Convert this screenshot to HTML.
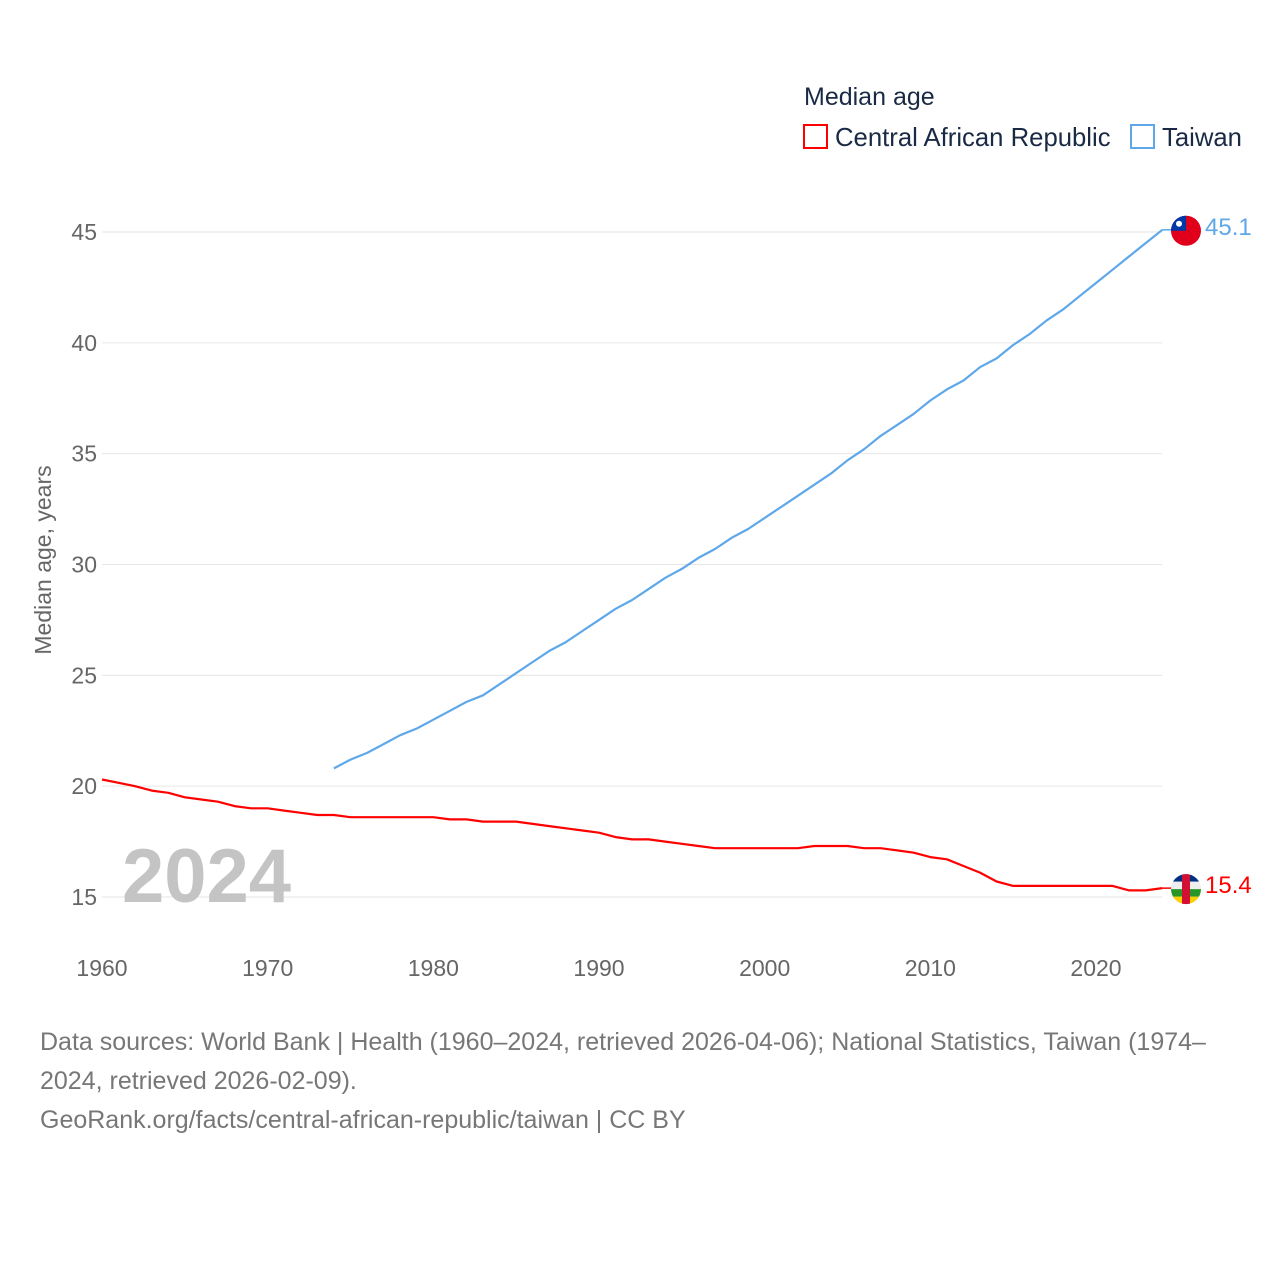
<!DOCTYPE html>
<html><head><meta charset="utf-8"><style>
body{margin:0;background:#fff;font-family:"Liberation Sans",sans-serif;}
#wrap{position:relative;width:1280px;height:1280px;}
.t{position:absolute;white-space:nowrap;}
</style></head><body>
<div id="wrap">
<div class="t" style="left:804px;top:83px;font-size:25px;color:#1a2a44">Median age</div>
<div class="t" style="left:803px;top:124px;width:25px;height:25px;border:2px solid #f00;box-sizing:border-box"></div>
<div class="t" style="left:835px;top:124px;font-size:25.7px;color:#1a2a44">Central African Republic</div>
<div class="t" style="left:1130px;top:124px;width:25px;height:25px;border:2px solid #5ea8ea;box-sizing:border-box"></div>
<div class="t" style="left:1162px;top:124px;font-size:25.7px;color:#1a2a44">Taiwan</div>
<svg id="svg" width="1280" height="1280" style="position:absolute;left:0;top:0"></svg>
<div class="t" style="left:40px;top:1023px;font-size:25px;color:#777;line-height:39px;white-space:normal;width:1220px">Data sources: World Bank | Health (1960–2024, retrieved 2026-04-06); National Statistics, Taiwan (1974–2024, retrieved 2026-02-09).<br>GeoRank.org/facts/central-african-republic/taiwan | CC BY</div>
</div>
<script>
const yTicks=[15,20,25,30,35,40,45];
const xTicks=[1960,1970,1980,1990,2000,2010,2020];
const carYears=[];for(let y=1960;y<=2024;y++)carYears.push(y);
const carValues=[20.3,20.15,20.0,19.8,19.7,19.5,19.4,19.3,19.1,19.0,19.0,18.9,18.8,18.7,18.7,18.6,18.6,18.6,18.6,18.6,18.6,18.5,18.5,18.4,18.4,18.4,18.3,18.2,18.1,18.0,17.9,17.7,17.6,17.6,17.5,17.4,17.3,17.2,17.2,17.2,17.2,17.2,17.2,17.3,17.3,17.3,17.2,17.2,17.1,17.0,16.8,16.7,16.4,16.1,15.7,15.5,15.5,15.5,15.5,15.5,15.5,15.5,15.3,15.3,15.4];
const twYears=[];for(let y=1974;y<=2024;y++)twYears.push(y);
const twValues=[20.8,21.2,21.5,21.9,22.3,22.6,23.0,23.4,23.8,24.1,24.6,25.1,25.6,26.1,26.5,27.0,27.5,28.0,28.4,28.9,29.4,29.8,30.3,30.7,31.2,31.6,32.1,32.6,33.1,33.6,34.1,34.7,35.2,35.8,36.3,36.8,37.4,37.9,38.3,38.9,39.3,39.9,40.4,41.0,41.5,42.1,42.7,43.3,43.9,44.5,45.1];
const X=v=>102+(v-1960)*(1096-102)/60;
const Y=v=>897-(v-15)*(897-232)/30;
const svg=document.getElementById('svg');const NS='http://www.w3.org/2000/svg';
function mk(t,a,p){const e=document.createElementNS(NS,t);for(const k in a)e.setAttribute(k,a[k]);(p||svg).appendChild(e);return e;}
yTicks.forEach(v=>{
 const l=mk('line',{x1:102,x2:1162,y1:Y(v),y2:Y(v),stroke:'#e6e6e6','stroke-width':1});
 
 
 const t=mk('text',{x:97,y:Y(v)+8,'text-anchor':'end','font-size':23,fill:'#666','font-family':'Liberation Sans, sans-serif'});t.textContent=v;
 
 
});
xTicks.forEach(v=>{
 const t=mk('text',{x:X(v),y:976,'text-anchor':'middle','font-size':23,fill:'#666','font-family':'Liberation Sans, sans-serif'});t.textContent=v;
 
 
});
const yt=mk('text',{x:0,y:0,transform:'translate(51,560) rotate(-90)','text-anchor':'middle','font-size':23,fill:'#666','font-family':'Liberation Sans, sans-serif'});yt.textContent='Median age, years';


const yr=mk('text',{x:122,y:902,'font-size':76,'font-weight':'bold',fill:'#c4c4c4','font-family':'Liberation Sans, sans-serif'});yr.textContent='2024';


function line(xs,vs,c,n){
 const d=xs.map((x,i)=>(i?'L':'M')+X(x).toFixed(1)+','+Y(vs[i]).toFixed(1)).join('');
 const p=mk('path',{d:d,fill:'none',stroke:c,'stroke-width':2.2,'stroke-linejoin':'round'});
 
 
 const last=vs[vs.length-1];
 mk('line',{x1:X(2024),x2:1174,y1:Y(last),y2:Y(last),stroke:c,'stroke-width':1.5});
 const t=mk('text',{x:1205,y:Y(last)+5,'font-size':24,fill:c,'font-family':'Liberation Sans, sans-serif'});t.textContent=last.toFixed(1);
 
 
}
line(carYears,carValues,'#f00','car-line');
line(twYears,twValues,'#5ea8ea','taiwan-line');
const tw=mk('g',{});
const tc=Y(45.1)+1;
mk('clipPath',{id:'c1'},tw);mk('circle',{cx:1186,cy:tc,r:15},tw.lastChild);
const g1=mk('g',{'clip-path':'url(#c1)'},tw);
mk('rect',{x:1170,y:tc-16,width:32,height:32,fill:'#e0001b'},g1);
mk('rect',{x:1170,y:tc-16,width:16,height:16,fill:'#0039a6'},g1);
mk('circle',{cx:1179,cy:tc-7,r:3,fill:'#fff'},g1);
const cf=mk('g',{});
const cc=Y(15.4)+1;
mk('clipPath',{id:'c2'},cf);mk('circle',{cx:1186,cy:cc,r:15},cf.lastChild);
const g2=mk('g',{'clip-path':'url(#c2)'},cf);
['#003082','#eee','#289728','#ffce00'].forEach((c,i)=>mk('rect',{x:1170,y:cc-15+i*7.5,width:32,height:7.6,fill:c},g2));
mk('rect',{x:1182,y:cc-16,width:8,height:32,fill:'#d21034'},g2);
</script>
</body></html>
